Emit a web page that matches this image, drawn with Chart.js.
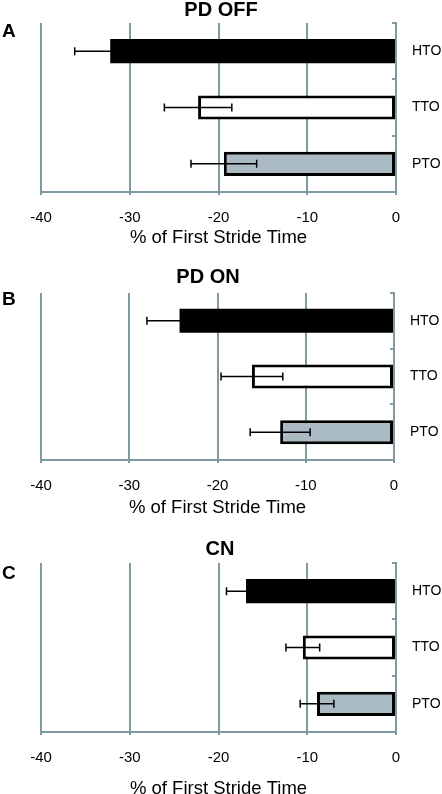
<!DOCTYPE html>
<html>
<head>
<meta charset="utf-8">
<script src="https://cdn.jsdelivr.net/npm/chart.js@4"></script>
<style>
  html, body { margin: 0; padding: 0; background: #fff; overflow: hidden; }
  body { width: 442px; height: 794px; position: relative; }
  .panel { position: absolute; left: 0; width: 442px; }
</style>
</head>
<body>
<div class="panel" id="wrapA" style="top:0px;height:260px"><canvas id="chartA"></canvas></div>
<div class="panel" id="wrapB" style="top:268px;height:260px"><canvas id="chartB"></canvas></div>
<div class="panel" id="wrapC" style="top:538px;height:266px"><canvas id="chartC"></canvas></div>
<script>
const categories = ['HTO', 'TTO', 'PTO'];
const xTicks = [-40, -30, -20, -10, 0];

const offMeans = [-32.2, -22.3, -19.4];
const offErrors = [4.0, 3.8, 3.7];

const onMeans = [-24.3, -16.1, -12.9];
const onErrors = [3.7, 3.5, 3.4];

const cnMeans = [-16.9, -10.5, -8.9];
const cnErrors = [2.2, 1.9, 1.9];

const gridGray = '#7f9aa0';
const barColors = ['#000000', '#ffffff', '#a9bac2'];

Chart.defaults.font.family = '"Liberation Sans", Arial, sans-serif';
Chart.defaults.color = '#000';

// error bars, panel letter and panel title drawn on top of the bars
const extras = {
    id: 'extras',
    afterDatasetsDraw(chart, args, opts) {
        const ctx = chart.ctx;
        const xs = chart.scales.x;
        const meta = chart.getDatasetMeta(0);
        const errs = opts.errors;
        ctx.save();
        ctx.strokeStyle = '#000';
        ctx.lineWidth = 1.5;
        meta.data.forEach((bar, i) => {
            const v = chart.data.datasets[0].data[i];
            const x1 = xs.getPixelForValue(v - errs[i]);
            const x2 = xs.getPixelForValue(v + errs[i]);
            const y = bar.y;
            ctx.beginPath();
            ctx.moveTo(x1, y);
            ctx.lineTo(x2, y);
            ctx.moveTo(x1, y - 4);
            ctx.lineTo(x1, y + 4);
            ctx.moveTo(x2, y - 4);
            ctx.lineTo(x2, y + 4);
            ctx.stroke();
        });
        ctx.fillStyle = '#000';
        ctx.textBaseline = 'middle';
        ctx.font = 'bold 19px "Liberation Sans", Arial, sans-serif';
        ctx.textAlign = 'left';
        ctx.fillText(opts.letter, 2, opts.letterY);
        ctx.font = 'bold 20px "Liberation Sans", Arial, sans-serif';
        ctx.textAlign = 'center';
        ctx.fillText(opts.title, opts.titleX, opts.titleY);
        ctx.restore();
    }
};

function makePanel(id, p) {
    const ctx = document.getElementById(id).getContext('2d');
    return new Chart(ctx, {
        type: 'bar',
        data: {
            labels: categories,
            datasets: [{
                data: p.means,
                backgroundColor: barColors,
                borderColor: '#000',
                borderWidth: [0, 3, 3],
                borderSkipped: false,
                barPercentage: 0.43,
                categoryPercentage: 1.0
            }]
        },
        options: {
            indexAxis: 'y',
            responsive: true,
            maintainAspectRatio: false,
            animation: false,
            layout: { padding: { left: 41, top: p.plotTop, right: 0, bottom: 0 } },
            plugins: {
                legend: { display: false },
                tooltip: { enabled: false },
                extras: {
                    errors: p.errors,
                    letter: p.letter,
                    letterY: p.letterY,
                    title: p.title,
                    titleX: p.titleX,
                    titleY: p.titleY
                }
            },
            scales: {
                x: {
                    min: -40,
                    max: 0,
                    afterBuildTicks: (scale) => {
                        scale.ticks = xTicks.map(v => ({ value: v }));
                    },
                    afterFit: (scale) => { scale.height = p.xHeight; },
                    grid: { color: gridGray, lineWidth: 2, tickLength: 3 },
                    border: { color: gridGray, width: 2 },
                    ticks: { font: { size: 15 }, padding: 14, maxRotation: 0 },
                    title: {
                        display: true,
                        text: '% of First Stride Time',
                        font: { size: 18.5 },
                        padding: { top: 0, bottom: p.xTitlePad }
                    }
                },
                y: {
                    position: 'right',
                    afterFit: (scale) => {
                        scale.width = p.yWidth;
                        scale.paddingTop = 0;
                        scale.paddingBottom = 0;
                    },
                    grid: { drawOnChartArea: false, color: gridGray, lineWidth: 2, tickLength: -4 },
                    border: { color: gridGray, width: 2 },
                    ticks: { font: { size: 14 }, padding: 20 }
                }
            }
        },
        plugins: [extras]
    });
}

makePanel('chartA', {
    means: offMeans, errors: offErrors, letter: 'A', title: 'PD OFF',
    plotTop: 23, xHeight: 68, xTitlePad: 11, yWidth: 46,
    letterY: 32, titleX: 221, titleY: 10
});
makePanel('chartB', {
    means: onMeans, errors: onErrors, letter: 'B', title: 'PD ON',
    plotTop: 25, xHeight: 68, xTitlePad: 9, yWidth: 48,
    letterY: 32, titleX: 208, titleY: 9
});
makePanel('chartC', {
    means: cnMeans, errors: cnErrors, letter: 'C', title: 'CN',
    plotTop: 25, xHeight: 72, xTitlePad: 4, yWidth: 46,
    letterY: 36, titleX: 220, titleY: 11
});
</script>
</body>
</html>
